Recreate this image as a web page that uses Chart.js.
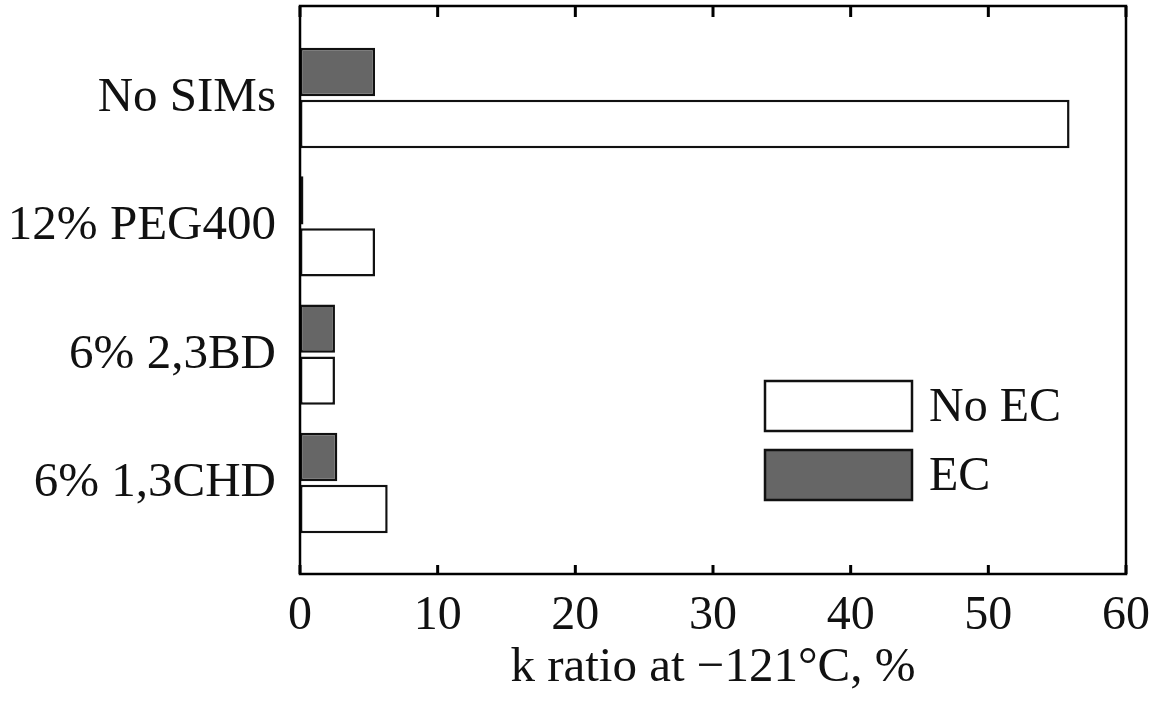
<!DOCTYPE html>
<html>
<head>
<meta charset="utf-8">
<script src="https://cdn.jsdelivr.net/npm/chart.js@4/dist/chart.umd.min.js"></script>
<style>
  html, body { margin: 0; padding: 0; background: #fff; }
  #wrap { width: 1160px; height: 702px; }
</style>
</head>
<body>
<div id="wrap"><canvas id="c" width="1160" height="702"></canvas></div>
<script>
// categories, top to bottom
const categories = ['No SIMs', '12% PEG400', '6% 2,3BD', '6% 1,3CHD'];
// k ratio values, %
const ecValues = [5.45, 0.25, 2.54, 2.71];
const noEcValues = [55.9, 5.45, 2.54, 6.37];
const xTicks = [0, 10, 20, 30, 40, 50, 60];

const FONT = '"Liberation Serif", "DejaVu Serif", serif';

const toPoints = vals => vals.map((v, i) => ({ x: v, y: i }));

// frame around plot area + inward tick marks on top and bottom
const framePlugin = {
    id: 'frame',
    afterDraw(chart) {
        const { ctx, chartArea: a } = chart;
        const xs = chart.scales.x;
        ctx.save();
        ctx.strokeStyle = '#000';
        ctx.lineWidth = 2.5;
        ctx.strokeRect(a.left, a.top, a.right - a.left, a.bottom - a.top);
        ctx.lineWidth = 3;
        xTicks.forEach(t => {
            const px = xs.getPixelForValue(t);
            ctx.beginPath();
            ctx.moveTo(px, a.bottom);
            ctx.lineTo(px, a.bottom - 9);
            ctx.moveTo(px, a.top);
            ctx.lineTo(px, a.top + 11);
            ctx.stroke();
        });
        ctx.restore();
    }
};

// legend drawn inside the plot, No EC above EC
const legendPlugin = {
    id: 'innerLegend',
    afterDraw(chart) {
        const { ctx } = chart;
        const items = [chart.data.datasets[1], chart.data.datasets[0]];
        ctx.save();
        ctx.font = '48px ' + FONT;
        ctx.textBaseline = 'middle';
        items.forEach((ds, i) => {
            const x = 765, y = 381 + i * 69, w = 147, h = 50;
            ctx.fillStyle = ds.backgroundColor;
            ctx.fillRect(x, y, w, h);
            ctx.lineWidth = 2.5;
            ctx.strokeStyle = '#111';
            ctx.strokeRect(x, y, w, h);
            ctx.fillStyle = '#111';
            ctx.fillText(ds.label, 929, y + h / 2 + 2);
        });
        ctx.restore();
    }
};

new Chart(document.getElementById('c'), {
    type: 'bar',
    data: {
        datasets: [
            {
                label: 'EC',
                data: toPoints(ecValues),
                backgroundColor: '#666666',
                borderColor: '#111',
                borderWidth: 2.5,
                borderSkipped: false
            },
            {
                label: 'No EC',
                data: toPoints(noEcValues),
                backgroundColor: '#ffffff',
                borderColor: '#111',
                borderWidth: 2.5,
                borderSkipped: false
            }
        ]
    },
    options: {
        indexAxis: 'y',
        responsive: false,
        animation: false,
        categoryPercentage: 0.81,
        barPercentage: 0.93,
        layout: { padding: { top: 6, right: 34, left: 0, bottom: 0 } },
        plugins: {
            legend: { display: false },
            tooltip: { enabled: false }
        },
        scales: {
            x: {
                type: 'linear',
                min: 0,
                max: 60,
                afterBuildTicks(scale) { scale.ticks = xTicks.map(v => ({ value: v })); },
                afterFit(scale) {
                    scale.height = 128;
                    scale.paddingLeft = 0;
                    scale.paddingRight = 0;
                },
                grid: { display: false, drawTicks: false },
                border: { display: false },
                ticks: {
                    color: '#111',
                    font: { family: FONT, size: 48 },
                    padding: 14,
                    maxRotation: 0
                },
                title: {
                    display: true,
                    text: 'k ratio at \u2212121\u00b0C, %',
                    color: '#111',
                    font: { family: FONT, size: 49 },
                    padding: { top: 0, bottom: 4 }
                }
            },
            y: {
                type: 'linear',
                reverse: true,
                offset: false,
                min: -0.717,
                max: 3.709,
                afterBuildTicks(scale) { scale.ticks = categories.map((_, i) => ({ value: i })); },
                afterFit(scale) {
                    scale.width = 300;
                    scale.paddingTop = 0;
                    scale.paddingBottom = 0;
                },
                grid: { display: false, drawTicks: false },
                border: { display: false },
                ticks: {
                    color: '#111',
                    font: { family: FONT, size: 49 },
                    padding: 24,
                    callback: v => categories[v]
                }
            }
        }
    },
    plugins: [framePlugin, legendPlugin]
});
</script>
</body>
</html>
